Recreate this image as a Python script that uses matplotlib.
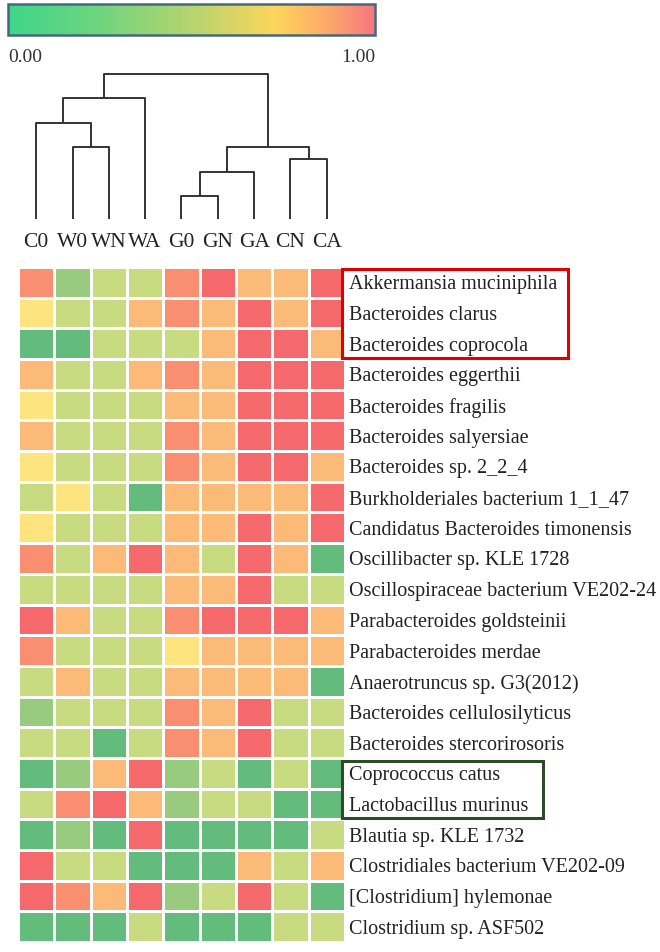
import matplotlib
matplotlib.use("Agg")
import matplotlib.pyplot as plt
import numpy as np
from matplotlib.colors import ListedColormap, BoundaryNorm, LinearSegmentedColormap
from matplotlib.patches import Rectangle
from matplotlib import transforms
import matplotlib.cm as cm

plt.rcParams["font.family"] = ["Liberation Serif", "DejaVu Serif"]

samples = ["C0", "W0", "WN", "WA", "G0", "GN", "GA", "CN", "CA"]
species = [
    "Akkermansia muciniphila",
    "Bacteroides clarus",
    "Bacteroides coprocola",
    "Bacteroides eggerthii",
    "Bacteroides fragilis",
    "Bacteroides salyersiae",
    "Bacteroides sp. 2_2_4",
    "Burkholderiales bacterium 1_1_47",
    "Candidatus Bacteroides timonensis",
    "Oscillibacter sp. KLE 1728",
    "Oscillospiraceae bacterium VE202-24",
    "Parabacteroides goldsteinii",
    "Parabacteroides merdae",
    "Anaerotruncus sp. G3(2012)",
    "Bacteroides cellulosilyticus",
    "Bacteroides stercorirosoris",
    "Coprococcus catus",
    "Lactobacillus murinus",
    "Blautia sp. KLE 1732",
    "Clostridiales bacterium VE202-09",
    "[Clostridium] hylemonae",
    "Clostridium sp. ASF502",
]

# relative abundance (scaled 0-1), rows = species, cols = samples
values = [
    [0.80, 0.20, 0.35, 0.35, 0.80, 0.95, 0.65, 0.65, 0.95],
    [0.50, 0.35, 0.35, 0.65, 0.80, 0.65, 0.95, 0.65, 0.95],
    [0.05, 0.05, 0.35, 0.35, 0.35, 0.65, 0.95, 0.95, 0.65],
    [0.65, 0.35, 0.35, 0.65, 0.80, 0.65, 0.95, 0.95, 0.95],
    [0.50, 0.35, 0.35, 0.35, 0.65, 0.65, 0.95, 0.95, 0.95],
    [0.65, 0.35, 0.35, 0.35, 0.80, 0.65, 0.95, 0.95, 0.95],
    [0.50, 0.35, 0.35, 0.35, 0.80, 0.65, 0.95, 0.95, 0.65],
    [0.35, 0.50, 0.35, 0.05, 0.65, 0.65, 0.65, 0.65, 0.95],
    [0.50, 0.35, 0.35, 0.35, 0.65, 0.65, 0.95, 0.65, 0.95],
    [0.80, 0.35, 0.65, 0.95, 0.65, 0.35, 0.95, 0.65, 0.05],
    [0.35, 0.35, 0.35, 0.35, 0.65, 0.65, 0.95, 0.35, 0.35],
    [0.95, 0.65, 0.35, 0.35, 0.80, 0.95, 0.95, 0.95, 0.65],
    [0.80, 0.35, 0.35, 0.35, 0.50, 0.65, 0.65, 0.65, 0.65],
    [0.35, 0.65, 0.35, 0.35, 0.65, 0.65, 0.65, 0.65, 0.05],
    [0.20, 0.35, 0.35, 0.35, 0.80, 0.65, 0.95, 0.35, 0.35],
    [0.35, 0.35, 0.05, 0.35, 0.80, 0.65, 0.95, 0.35, 0.35],
    [0.05, 0.20, 0.65, 0.95, 0.20, 0.35, 0.05, 0.35, 0.05],
    [0.35, 0.80, 0.95, 0.65, 0.20, 0.35, 0.35, 0.05, 0.05],
    [0.05, 0.20, 0.05, 0.95, 0.05, 0.05, 0.05, 0.05, 0.35],
    [0.95, 0.35, 0.35, 0.05, 0.05, 0.05, 0.65, 0.35, 0.65],
    [0.95, 0.80, 0.65, 0.95, 0.20, 0.35, 0.95, 0.35, 0.05],
    [0.05, 0.05, 0.05, 0.35, 0.05, 0.05, 0.05, 0.35, 0.35],
]

# dendrogram merges: (left node, right node, height); leaves are 0..8
merges = [
    (1, 2, 72),
    (0, 9, 96),
    (10, 3, 121),
    (4, 5, 23),
    (12, 6, 47),
    (7, 8, 60),
    (13, 14, 72),
    (11, 15, 145),
]

cell_colors = ["#63bc7b", "#98cb7d", "#c9db80", "#fee47f", "#fbba78", "#f98f70", "#f5686b"]
cell_cmap = ListedColormap(cell_colors)
cell_norm = BoundaryNorm(np.linspace(0, 1, 8), cell_cmap.N)
bar_cmap = LinearSegmentedColormap.from_list(
    "bar", [(0, "#3ed68a"), (0.25, "#6fd47e"), (0.5, "#b5d46f"),
            (0.73, "#fdd55b"), (0.88, "#fda66b"), (1.0, "#f7767f")])

W, H = 660, 952
fig = plt.figure(figsize=(W / 100, H / 100), dpi=100)

def fbox(x0, y0, x1, y1):
    return [x0 / W, 1 - y1 / H, (x1 - x0) / W, (y1 - y0) / H]

# heatmap
ax = fig.add_axes(fbox(18, 267, 345, 942))
data = np.array(values)
ax.pcolormesh(data, cmap=cell_cmap, norm=cell_norm, edgecolors="white", linewidth=2)
ax.set_xlim(0, len(samples))
ax.set_ylim(len(species), 0)
ax.set_xticks([])
ax.yaxis.tick_right()
ax.set_yticks(np.arange(len(species)) + 0.5)
ax.set_yticklabels(species, fontsize=14.5, color="#222222")
ax.tick_params(axis="y", length=0, pad=3)
for s in ax.spines.values():
    s.set_visible(False)

# highlight boxes
trans = transforms.blended_transform_factory(fig.transFigure, ax.transData)
ax.add_patch(Rectangle((342 / W, 0.05), (568 - 342) / W, 2.9, transform=trans,
                       fill=False, edgecolor="#e00000", linewidth=2.2, clip_on=False))
ax.add_patch(Rectangle((342 / W, 16.1), (543 - 342) / W, 1.85, transform=trans,
                       fill=False, edgecolor="#2f4a28", linewidth=2.2, clip_on=False))

# dendrogram
axd = fig.add_axes(fbox(18, 69, 345, 219))
pos = {i: i + 0.5 for i in range(len(samples))}
hgt = {i: 0 for i in range(len(samples))}
for k, (a, b, h) in enumerate(merges):
    node = len(samples) + k
    axd.plot([pos[a], pos[a], pos[b], pos[b]], [hgt[a], h, h, hgt[b]],
             color="#333333", linewidth=1.4, solid_capstyle="butt")
    pos[node] = (pos[a] + pos[b]) / 2
    hgt[node] = h
axd.set_xlim(0, len(samples))
axd.set_ylim(0, 150)
axd.set_xticks(np.arange(len(samples)) + 0.5)
axd.set_xticklabels(samples, fontsize=15.5, color="#222222")
axd.tick_params(axis="x", length=0, pad=10)
axd.set_yticks([])
for s in axd.spines.values():
    s.set_visible(False)

# colour bar
axc = fig.add_axes(fbox(8, 4, 375, 35))
sm = cm.ScalarMappable(norm=plt.Normalize(0, 1), cmap=bar_cmap)
cb = fig.colorbar(sm, cax=axc, orientation="horizontal")
cb.set_ticks([])
cb.outline.set_edgecolor("#46687f")
cb.outline.set_linewidth(1.8)
axc.text(0, -0.45, "0.00", transform=axc.transAxes, ha="left", va="top",
         fontsize=14, color="#333333")
axc.text(1, -0.45, "1.00", transform=axc.transAxes, ha="right", va="top",
         fontsize=14, color="#333333")

fig.savefig("out.png", dpi=100)
